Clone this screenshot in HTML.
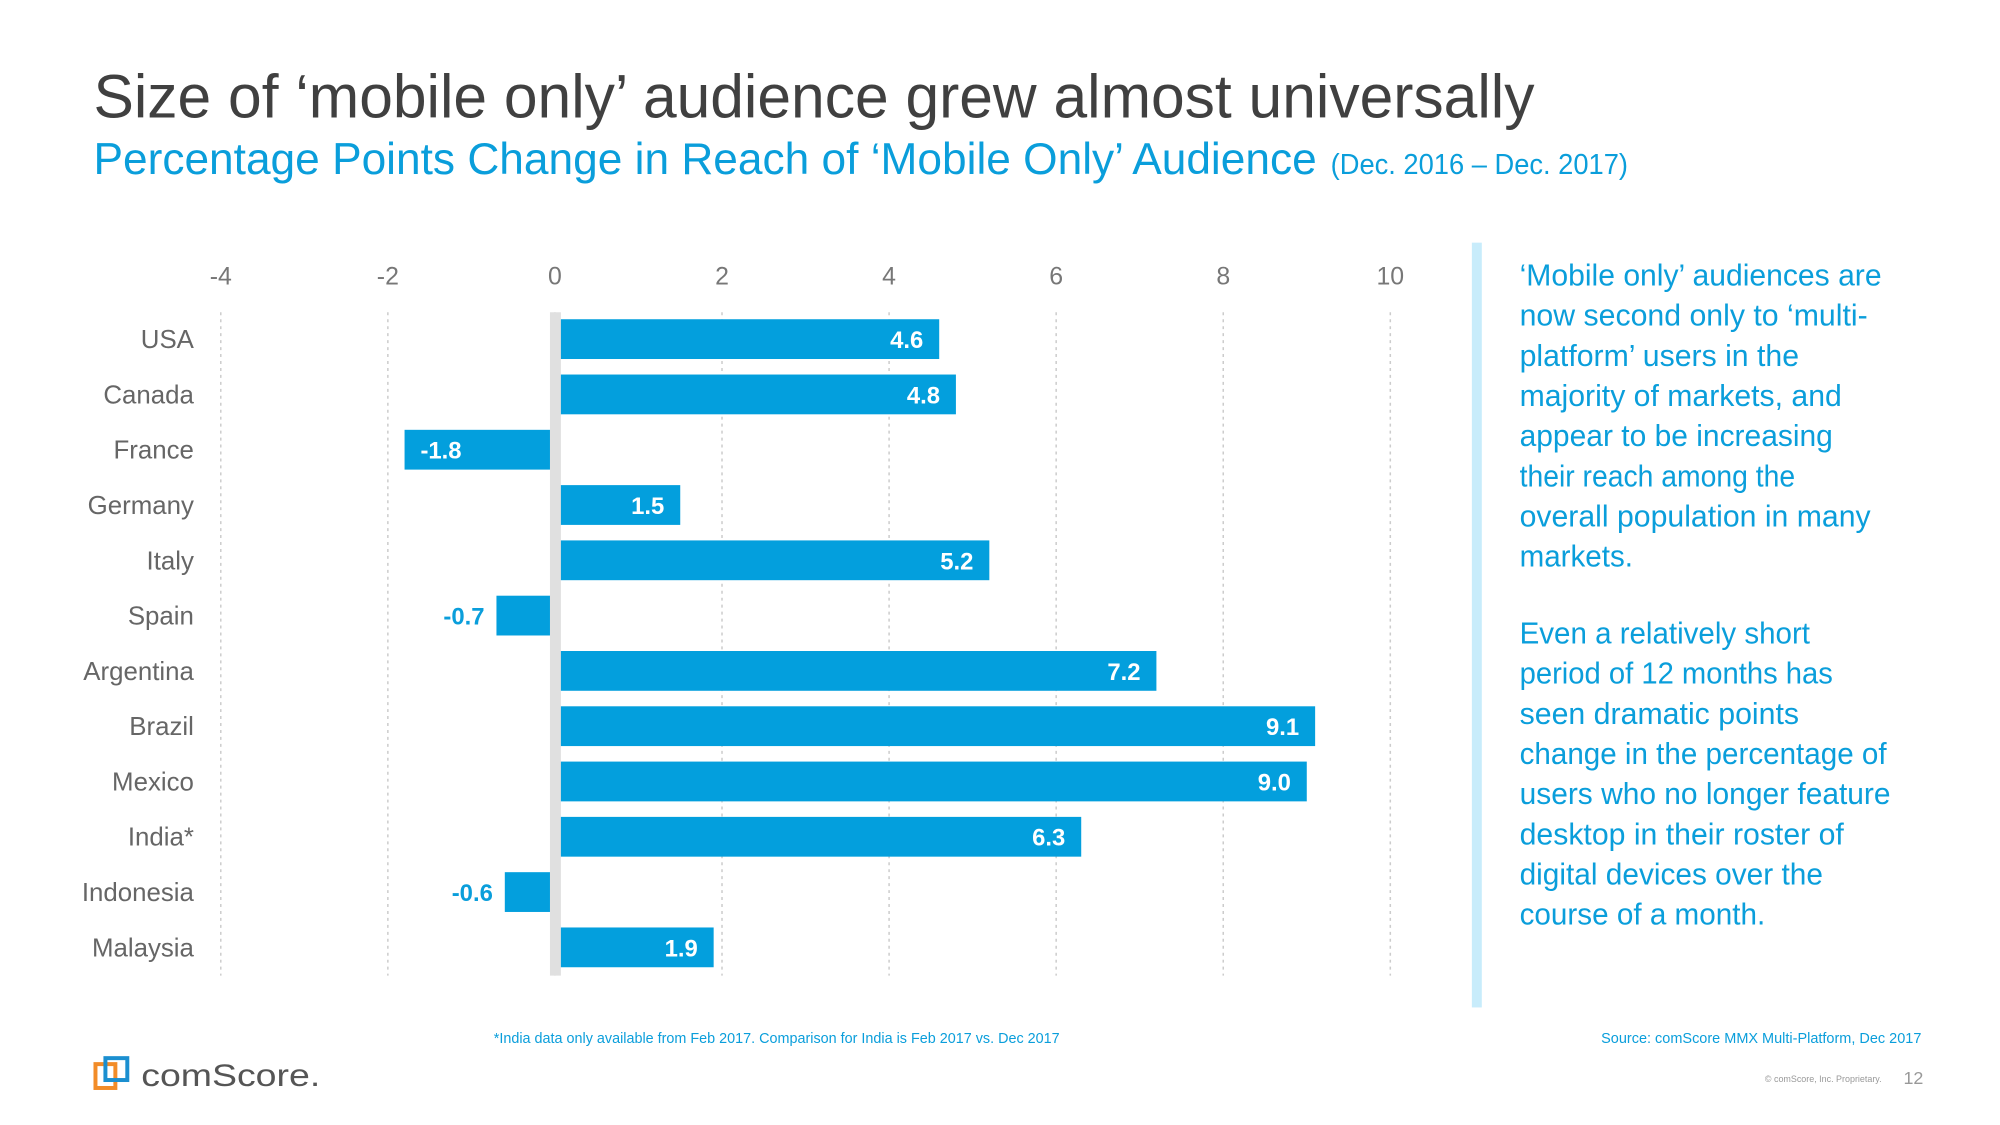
<!DOCTYPE html>
<html><head><meta charset="utf-8"><style>
html,body{margin:0;padding:0;background:#fff;}
svg{display:block;font-family:"Liberation Sans",sans-serif;}
</style></head><body>
<svg id="chart" width="2000" height="1125" viewBox="0 0 2000 1125" xmlns="http://www.w3.org/2000/svg">
<g transform="scale(0.9945)">
<text x="94" y="118" font-size="62" fill="#404040" textLength="1449" lengthAdjust="spacingAndGlyphs">Size of ‘mobile only’ audience grew almost universally</text>
<text x="94" y="175" font-size="45" fill="#0a9edb" textLength="1230" lengthAdjust="spacingAndGlyphs">Percentage Points Change in Reach of ‘Mobile Only’ Audience</text>
<text x="1338" y="175" font-size="29" fill="#0a9edb" textLength="299" lengthAdjust="spacingAndGlyphs">(Dec. 2016 – Dec. 2017)</text>
<g id="grid"></g><g id="bars"></g>
<rect x="1480" y="244" width="10" height="769" fill="#c8ecfb"/>
<g id="notes" font-size="31" fill="#0a9edb"></g>
<text x="781" y="1049" font-size="15" fill="#0a9edb" text-anchor="middle" textLength="569" lengthAdjust="spacingAndGlyphs">*India data only available from Feb 2017. Comparison for India is Feb 2017 vs. Dec 2017</text>
<text x="1932" y="1049" font-size="15" fill="#0a9edb" text-anchor="end" textLength="322" lengthAdjust="spacingAndGlyphs">Source: comScore MMX Multi-Platform, Dec 2017</text>
<text x="1892" y="1088" font-size="9" fill="#999" text-anchor="end">© comScore, Inc. Proprietary.</text>
<text x="1934" y="1090" font-size="18" fill="#999" text-anchor="end">12</text>
<g>
<rect x="96" y="1070" width="20" height="24" fill="none" stroke="#f28c28" stroke-width="4"/>
<rect x="106" y="1064" width="22" height="22" fill="none" stroke="#1b8fd0" stroke-width="4"/>
<text x="142" y="1092" font-size="32" fill="#555" textLength="180" lengthAdjust="spacingAndGlyphs">comScore.</text>
</g>
</g>
</svg>
<script>
const categories=["USA","Canada","France","Germany","Italy","Spain","Argentina","Brazil","Mexico","India*","Indonesia","Malaysia"];
const values=[4.6,4.8,-1.8,1.5,5.2,-0.7,7.2,9.1,9.0,6.3,-0.6,1.9];
const valueLabels=["4.6","4.8","-1.8","1.5","5.2","-0.7","7.2","9.1","9.0","6.3","-0.6","1.9"];
const ticks=[-4,-2,0,2,4,6,8,10];
const tickLabels=["-4","-2","0","2","4","6","8","10"];
const NS="http://www.w3.org/2000/svg";
function x(v){return 558+v*84;}
function yc(i){return 341+i*55.6;}
function mk(tag,attrs,parent,txt){const e=document.createElementNS(NS,tag);for(const k in attrs)e.setAttribute(k,attrs[k]);if(txt!==undefined)e.textContent=txt;parent.appendChild(e);return e;}
const grid=document.getElementById('grid'),bars=document.getElementById('bars');
ticks.forEach((t,i)=>{
 const l=mk('line',{x1:x(t),x2:x(t),y1:314,y2:981,stroke:'#ccc','stroke-width':1.5,'stroke-dasharray':'3,4'},grid);
 
 
 const tx=mk('text',{x:x(t),y:286,'font-size':25,fill:'#777','text-anchor':'middle'},grid,tickLabels[i]);
 
 
});
categories.forEach((c,i)=>{
 const v=values[i],y=yc(i);
 const cl=mk('text',{x:195,y:y+9,'font-size':26,fill:'#666','text-anchor':'end'},bars,c);
 
 
 const x0=Math.min(x(0),x(v)),w=Math.abs(x(v)-x(0));
 const r=mk('rect',{x:x0,y:y-20,width:w,height:40,fill:'#039fdd'},bars);
 
 
 let lx,anchor,col;
 if(v>=0){lx=x(v)-16;anchor='end';col='#fff';}
 else if(w>80){lx=x(v)+16;anchor='start';col='#fff';}
 else{lx=x(v)-12;anchor='end';col='#0a9edb';}
 const vl=mk('text',{x:lx,y:y+9,'font-size':24,'font-weight':'bold',fill:col,'text-anchor':anchor},bars,valueLabels[i]);
 
 
});
const z=mk('rect',{x:553,y:314,width:11,height:667,fill:'#e0e0e0'},bars);


const lines=[["‘Mobile only’ audiences are",364],["now second only to ‘multi-",350],["platform’ users in the",281],["majority of markets, and",324],["appear to be increasing",315],["their reach among the",277],["overall population in many",353],["markets.",114],
["Even a relatively short",292],["period of 12 months has",315],["seen dramatic points",281],["change in the percentage of",369],["users who no longer feature",373],["desktop in their roster of",326],["digital devices over the",305],["course of a month.",247]];
const notes=document.getElementById('notes');
lines.forEach((l,i)=>{
 const y=i<8?287+i*40.4:647+(i-8)*40.4;
 const t=mk('text',{x:1528,y:y,textLength:l[1],lengthAdjust:'spacingAndGlyphs'},notes,l[0]);
 
 
});
</script>
</body></html>
